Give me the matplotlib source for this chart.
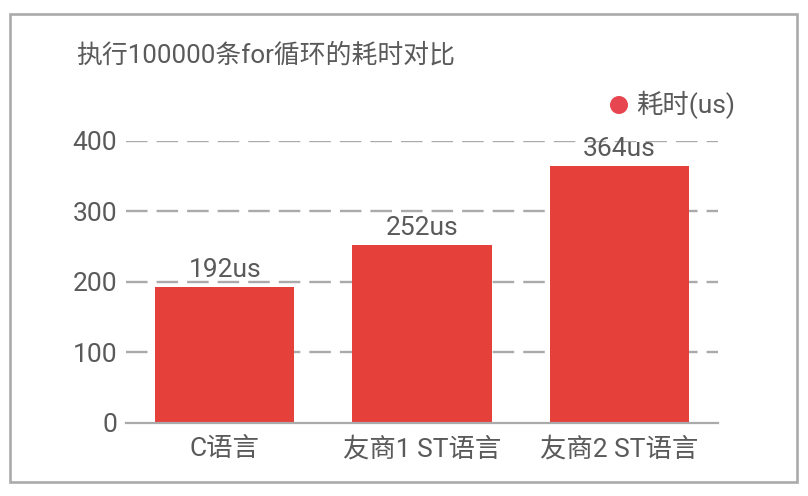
import matplotlib
matplotlib.use("Agg")
import matplotlib.pyplot as plt
from matplotlib.patches import Rectangle, Circle

categories = ["C语言", "友商1 ST语言", "友商2 ST语言"]
values = [192, 252, 364]
value_labels = ["192us", "252us", "364us"]
yticks = [0, 100, 200, 300, 400]
title = "执行100000条for循环的耗时对比"
legend_label = "耗时(us)"

plt.rcParams['font.family'] = ['Roboto', 'Noto Sans CJK SC', 'DejaVu Sans']
plt.rcParams['lines.scale_dashes'] = False

W, H = 808, 496
fig = plt.figure(figsize=(W / 100, H / 100), dpi=100)
fig.patch.set_facecolor('white')

text_color = '#5a5a5a'
grid_color = '#aaaaaa'
bar_color = '#E5403A'
fs = 19

ax = fig.add_axes([126 / W, (H - 422.6) / H, (718 - 126) / W, (422.6 - 140.7) / H])
x = list(range(len(categories)))
bars = ax.bar(x, values, width=0.705, color=bar_color, zorder=2)
ax.set_xlim(-0.5, len(categories) - 0.5)
ax.set_ylim(0, 400)
ax.set_yticks(yticks)
ax.set_xticks(x)
ax.set_xticklabels(categories)
ax.tick_params(axis='y', length=0, pad=6.5, labelsize=fs, labelcolor=text_color)
ax.tick_params(axis='x', length=0, pad=10.5, labelsize=fs, labelcolor=text_color)
for s in ['top', 'right', 'left']:
    ax.spines[s].set_visible(False)
ax.spines['bottom'].set_color(grid_color)
ax.spines['bottom'].set_linewidth(1.6)
ax.spines['bottom'].set_zorder(3)
ax.set_facecolor('none')

for t in yticks[1:]:
    ax.axhline(t, color=grid_color, lw=1.7, linestyle=(0, (15.5, 6.5)), zorder=1)

for xi, v, lab in zip(x, values, value_labels):
    ax.annotate(lab, (xi, v), xytext=(0, 3.6), textcoords='offset points',
                ha='center', va='bottom', fontsize=fs, color=text_color)

fig.text(76 / W, 1 - 55 / H, title, fontsize=18.6, color=text_color, va='center', ha='left')

# legend
fig.patches.append(Circle((619, (H - 105)), 9, transform=None,
                          facecolor='#E74550', edgecolor='none'))
fig.text(636 / W, 1 - 105 / H, legend_label, fontsize=fs, color=text_color, va='center', ha='left')

# border
fig.patches.append(Rectangle((10 / W, (H - 482) / H), (797 - 10) / W, (482 - 14) / H,
                             transform=fig.transFigure, fill=False,
                             edgecolor=grid_color, linewidth=1.9))

fig.savefig('out.png', dpi=100, facecolor='white')
